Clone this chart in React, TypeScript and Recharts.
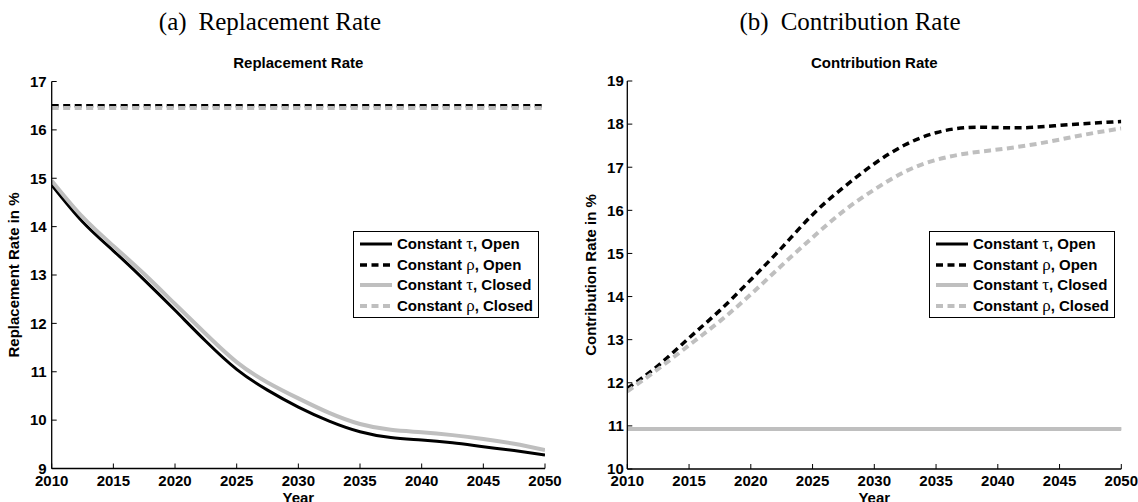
import React from 'react';
import { LineChart, Line, XAxis, YAxis, Legend } from 'recharts';

const years = [2010, 2012.5, 2015, 2017.5, 2020, 2022.5, 2025, 2027.5, 2030, 2032.5, 2035, 2037.5, 2040, 2042.5, 2045, 2047.5, 2050];

// Replacement rate (%)
const rrTauOpen = [14.86, 14.1, 13.5, 12.9, 12.27, 11.63, 11.05, 10.62, 10.27, 9.98, 9.76, 9.64, 9.59, 9.53, 9.45, 9.37, 9.28];
const rrRhoOpen = [16.5, 16.5, 16.5, 16.5, 16.5, 16.5, 16.5, 16.5, 16.5, 16.5, 16.5, 16.5, 16.5, 16.5, 16.5, 16.5, 16.5];
const rrTauClosed = [14.95, 14.2, 13.6, 13.02, 12.4, 11.78, 11.2, 10.78, 10.45, 10.15, 9.92, 9.8, 9.75, 9.69, 9.61, 9.51, 9.38];
const rrRhoClosed = [16.45, 16.45, 16.45, 16.45, 16.45, 16.45, 16.45, 16.45, 16.45, 16.45, 16.45, 16.45, 16.45, 16.45, 16.45, 16.45, 16.45];

// Contribution rate (%)
const crTauOpen = [10.935, 10.935, 10.935, 10.935, 10.935, 10.935, 10.935, 10.935, 10.935, 10.935, 10.935, 10.935, 10.935, 10.935, 10.935, 10.935, 10.935];
const crRhoOpen = [11.87, 12.4, 13.04, 13.68, 14.39, 15.13, 15.9, 16.53, 17.08, 17.52, 17.8, 17.92, 17.92, 17.92, 17.97, 18.02, 18.06];
const crTauClosed = [10.93, 10.93, 10.93, 10.93, 10.93, 10.93, 10.93, 10.93, 10.93, 10.93, 10.93, 10.93, 10.93, 10.93, 10.93, 10.93, 10.93];
const crRhoClosed = [11.8, 12.32, 12.87, 13.43, 14.05, 14.72, 15.37, 15.98, 16.48, 16.9, 17.17, 17.32, 17.41, 17.51, 17.64, 17.78, 17.9];

const xTicks = [2010, 2015, 2020, 2025, 2030, 2035, 2040, 2045, 2050];
const rrTicks = [9, 10, 11, 12, 13, 14, 15, 16, 17];
const crTicks = [10, 11, 12, 13, 14, 15, 16, 17, 18, 19];

const seriesNames = ['Constant τ, Open', 'Constant ρ, Open', 'Constant τ, Closed', 'Constant ρ, Closed'];

const GRAY = '#bfbfbf';
const SANS = 'Arial, "Liberation Sans", Helvetica, sans-serif';
const SERIF = '"Liberation Serif", "Times New Roman", Times, serif';

const seriesStyle = [
  { key: 'tauOpen', color: '#000', width: 3, dash: undefined as string | undefined },
  { key: 'rhoOpen', color: '#000', width: 3.5, dash: '7 4.5' },
  { key: 'tauClosed', color: GRAY, width: 4, dash: undefined as string | undefined },
  { key: 'rhoClosed', color: GRAY, width: 4, dash: '7 4.5' },
];

const rrData = years.map((y, i) => ({ year: y, tauOpen: rrTauOpen[i], rhoOpen: rrRhoOpen[i], tauClosed: rrTauClosed[i], rhoClosed: rrRhoClosed[i] }));
const crData = years.map((y, i) => ({ year: y, tauOpen: crTauOpen[i], rhoOpen: crRhoOpen[i], tauClosed: crTauClosed[i], rhoClosed: crRhoClosed[i] }));

function renderName(name: string) {
  const m = name.match(/^(.*?)([τρ])(.*)$/);
  if (!m) return name;
  return (
    <>
      {m[1]}
      <span style={{ fontFamily: SERIF, fontWeight: 'normal', fontSize: 17 }}>{m[2]}</span>
      {m[3]}
    </>
  );
}

const rowCenters = [13, 33.5, 54, 74.5];

function LegendBox() {
  return (
    <div
      style={{
        width: 186,
        height: 87,
        border: '1px solid #000',
        background: '#fff',
        boxSizing: 'border-box',
        position: 'relative',
        fontFamily: SANS,
        fontWeight: 'bold',
        fontSize: 15,
        color: '#000',
      }}
    >
      {seriesStyle.map((s, i) => (
        <div
          key={s.key}
          style={{ position: 'absolute', left: 0, top: rowCenters[i] - 11, height: 20, display: 'flex', alignItems: 'center', whiteSpace: 'nowrap' }}
        >
          <svg width={43} height={20} style={{ display: 'block' }}>
            <line x1={6} x2={38} y1={10} y2={10} stroke={s.color} strokeWidth={s.width} strokeDasharray={s.dash} />
          </svg>
          <span style={{ lineHeight: '20px' }}>{renderName(seriesNames[i])}</span>
        </div>
      ))}
    </div>
  );
}

const tickStyle = { fontFamily: SANS, fontWeight: 'bold' as const, fontSize: 15, fill: '#000' };
const axisLine = { stroke: '#000', strokeWidth: 1.3 };
const tickLine = { stroke: '#000', strokeWidth: 1 };

type PanelProps = {
  data: any[];
  width: number;
  top: number;
  bottom: number;
  yAxisWidth: number;
  right: number;
  domain: [number, number];
  yTicks: number[];
  yLabel: string;
  yLabelDx: number;
  yTickMargin: number;
  legendLeft: number;
};

function Panel(p: PanelProps) {
  return (
    <LineChart width={p.width} height={502} data={p.data} margin={{ top: p.top, right: p.right, bottom: 0, left: 0 }}>
      <XAxis
        dataKey="year"
        type="number"
        domain={[2010, 2050]}
        ticks={xTicks}
        xAxisId="bottom"
        orientation="bottom"
        height={p.bottom}
        tickSize={-5}
        tickMargin={11.5}
        tick={tickStyle}
        axisLine={axisLine}
        tickLine={tickLine}
        allowDataOverflow
        interval={0}
        label={{ value: 'Year', position: 'insideBottom', offset: -1, style: { fontFamily: SANS, fontWeight: 'bold', fontSize: 15, fill: '#000' } }}
      />
      <XAxis
        dataKey="year"
        type="number"
        domain={[2010, 2050]}
        ticks={xTicks}
        xAxisId="top"
        orientation="top"
        height={0}
        tickSize={-5}
        tickFormatter={() => ''}
        axisLine={axisLine}
        tickLine={tickLine}
        interval={0}
      />
      <YAxis
        yAxisId="left"
        orientation="left"
        width={p.yAxisWidth}
        domain={p.domain}
        ticks={p.yTicks}
        tickSize={-5}
        tickMargin={p.yTickMargin}
        tick={tickStyle}
        axisLine={axisLine}
        tickLine={tickLine}
        interval={0}
        allowDataOverflow
        label={{ value: p.yLabel, angle: -90, position: 'center', dx: p.yLabelDx, style: { fontFamily: SANS, fontWeight: 'bold', fontSize: 15, fill: '#000', textAnchor: 'middle' } }}
      />
      <YAxis
        yAxisId="right"
        orientation="right"
        width={0}
        domain={p.domain}
        ticks={p.yTicks}
        tickSize={-5}
        tickFormatter={() => ''}
        axisLine={axisLine}
        tickLine={tickLine}
        interval={0}
        allowDataOverflow
      />
      {seriesStyle.map((s, i) => (
        <Line
          key={s.key}
          xAxisId="bottom"
          yAxisId="left"
          type="natural"
          dataKey={s.key}
          name={seriesNames[i]}
          stroke={s.color}
          strokeWidth={s.width}
          strokeDasharray={s.dash}
          dot={false}
          activeDot={false}
          isAnimationActive={false}
        />
      ))}
      <Legend
        layout="vertical"
        align="center"
        verticalAlign="middle"
        content={() => <LegendBox />}
        wrapperStyle={{ position: 'absolute', left: p.legendLeft, top: 231, width: 186, height: 87, margin: 0 }}
      />
    </LineChart>
  );
}

export default function App() {
  return (
    <div style={{ position: 'absolute', left: 0, top: 0, width: 1138, height: 502, background: '#fff', overflow: 'hidden' }}>
      <div style={{ position: 'absolute', left: 0, top: 0 }}>
        <Panel
          data={rrData}
          width={569}
          top={81.5}
          bottom={33.5}
          yAxisWidth={51.7}
          right={24}
          domain={[9, 17]}
          yTicks={rrTicks}
          yLabel="Replacement Rate in %"
          yLabelDx={-12}
          yTickMargin={10}
          legendLeft={353}
        />
      </div>
      <div style={{ position: 'absolute', left: 569, top: 0 }}>
        <Panel
          data={crData}
          width={569}
          top={81}
          bottom={33}
          yAxisWidth={58.3}
          right={16.7}
          domain={[10, 19]}
          yTicks={crTicks}
          yLabel="Contribution Rate in %"
          yLabelDx={-7}
          yTickMargin={8.5}
          legendLeft={360}
        />
      </div>
      <svg width={1138} height={502} style={{ position: 'absolute', left: 0, top: 0, pointerEvents: 'none' }}>
        <text x={270} y={30} textAnchor="middle" fontFamily={SERIF} fontSize={25} fill="#000">
          (a)<tspan dx={12}>Replacement Rate</tspan>
        </text>
        <text x={850} y={30} textAnchor="middle" fontFamily={SERIF} fontSize={25} fill="#000">
          (b)<tspan dx={12}>Contribution Rate</tspan>
        </text>
        <text x={298.3} y={67.5} textAnchor="middle" fontFamily={SANS} fontWeight="bold" fontSize={15} fill="#000">
          Replacement Rate
        </text>
        <text x={874.3} y={67.5} textAnchor="middle" fontFamily={SANS} fontWeight="bold" fontSize={15} fill="#000">
          Contribution Rate
        </text>
      </svg>
    </div>
  );
}
